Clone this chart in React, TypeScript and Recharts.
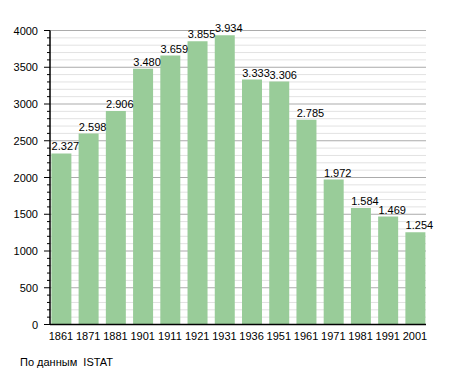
import { BarChart, Bar, XAxis, YAxis, CartesianGrid, LabelList } from 'recharts'

const YEARS = ['1861', '1871', '1881', '1901', '1911', '1921', '1931', '1936', '1951', '1961', '1971', '1981', '1991', '2001']
const POPULATION = [2327, 2598, 2906, 3480, 3659, 3855, 3934, 3333, 3306, 2785, 1972, 1584, 1469, 1254]
const Y_TICKS = Array.from({ length: 41 }, (_, i) => i * 100)
const MAJOR_TICKS = [0, 500, 1000, 1500, 2000, 2500, 3000, 3500, 4000]
const MINOR_TICKS = Y_TICKS.filter(v => v % 500 !== 0)
const Y_MAX = 4000

const FONT = '"Liberation Sans", Arial, sans-serif'
const BAR = '#99cc99'

const rows = POPULATION.map((v, i) => ({ i, year: YEARS[i], value: v }))

const fmt = (v: number) => {
  const s = String(v)
  return s.length > 3 ? s.slice(0, s.length - 3) + '.' + s.slice(-3) : s
}

function YTick(props: any) {
  const { x, y, payload } = props
  const major = payload.value % 500 === 0
  return (
    <g>
      <line x1={x + 8} x2={x + (major ? 2 : 5)} y1={y} y2={y} stroke="#000" strokeWidth={1} />
      {major && (
        <text x={x - 4} y={y} dy={4} textAnchor="end" fontSize={11} fontFamily={FONT} fill="#000">{payload.value}</text>
      )}
    </g>
  )
}

if (typeof document !== 'undefined') document.body.style.margin = '0'

export default function App() {
  const gridFrom = (vals: number[]) => (p: any) => {
    const yAxis = p.yAxis
    if (yAxis && typeof yAxis.scale === 'function') return vals.map(v => yAxis.scale(v))
    const { offset } = p
    return vals.map(v => offset.top + offset.height * (1 - v / Y_MAX))
  }
  return (
    <div style={{ position: 'relative', width: 455, height: 373, background: '#fff' }}>
      <BarChart width={455} height={373} data={rows} margin={{ top: 30.5, right: 29, left: 0, bottom: 18.5 }}>
        <CartesianGrid vertical={false} stroke="#e2e2e2" horizontalCoordinatesGenerator={gridFrom(MINOR_TICKS)} />
        <CartesianGrid vertical={false} stroke="#ababab" horizontalCoordinatesGenerator={gridFrom(MAJOR_TICKS)} />
        <XAxis
          dataKey="i"
          type="number"
          domain={[-0.404, 13.404]}
          ticks={YEARS.map((_, i) => i)}
          tickFormatter={(i: number) => YEARS[i]}
          interval={0}
          height={30}
          tickLine={false}
          axisLine={{ stroke: '#000', strokeWidth: 1.5 }}
          tick={{ fill: '#000', fontSize: 11, fontFamily: FONT }}
          tickMargin={2}
          allowDataOverflow
        />
        <YAxis
          width={50}
          domain={[0, Y_MAX]}
          ticks={Y_TICKS}
          interval={0}
          tickLine={false}
          axisLine={{ stroke: '#000', strokeWidth: 1.5 }}
          tick={<YTick />}
          allowDataOverflow
        />
        <Bar dataKey="value" fill={BAR} barSize={20} isAnimationActive={false}>
          <LabelList dataKey="value" position="top" offset={3} dx={4} formatter={(v: any) => fmt(Number(v))}
            style={{ fill: '#000', fontSize: 11, fontFamily: FONT }} />
        </Bar>
      </BarChart>
      <div style={{ position: 'absolute', left: 20, top: 356, fontSize: 11, fontFamily: FONT, whiteSpace: 'pre', color: '#000' }}>
        По данным  ISTAT
      </div>
    </div>
  )
}
